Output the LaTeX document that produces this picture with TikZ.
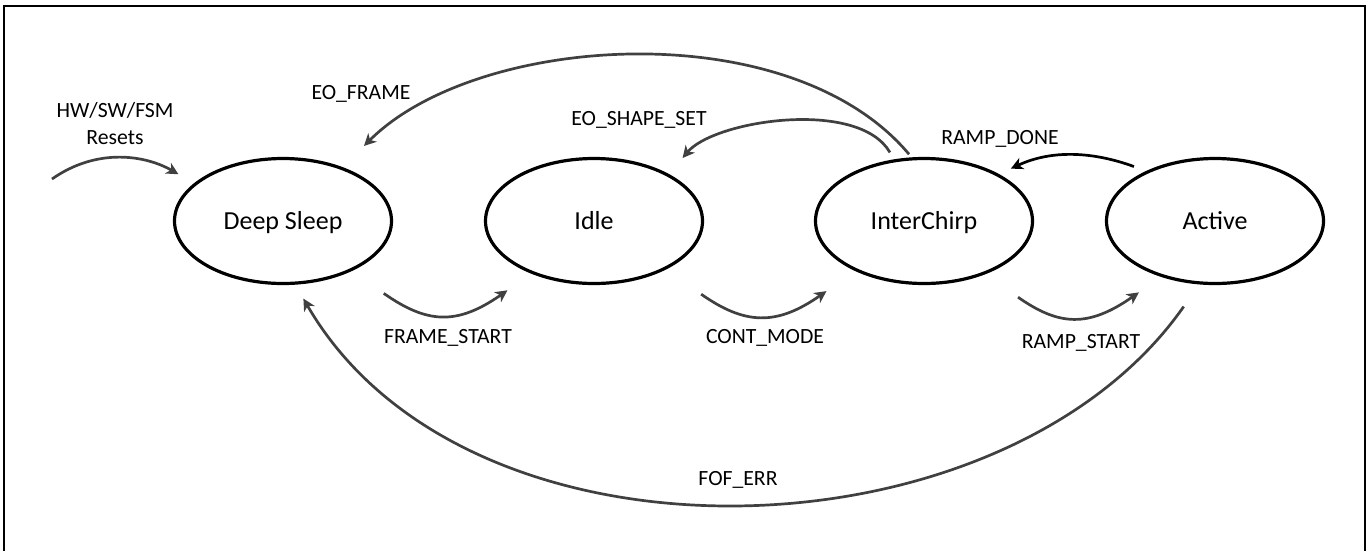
\documentclass[tikz,border=0pt]{standalone}
\usepackage{fontspec}
\setmainfont{Carlito}
\usetikzlibrary{shapes.geometric,arrows.meta}
\definecolor{arrowgray}{HTML}{404040}

\begin{document}
\begin{tikzpicture}[x=1pt,y=1pt,
    state/.style={ellipse,draw,line width=3.2pt,minimum width=217pt,minimum height=125pt,
      font=\fontsize{26}{30}\selectfont,text height=17pt,text depth=0pt},
    lbl/.style={font=\fontsize{21.7}{27}\selectfont,align=center},
    trans/.style={draw=arrowgray,line width=2.7pt,-{Stealth[length=12pt,width=12pt,inset=3.5pt]}}]
    \useasboundingbox (0,0) rectangle (1368,-550);
    \draw[line width=2.5pt] (4,-552) |- (1365,-6) -- (1365,-552);

    \node[state] (ds) at (283,-221) {Deep Sleep};
    \node[state] (idle) at (594,-221) {Idle};
    \node[state] (ic) at (924,-221) {InterChirp};
    \node[state] (act) at (1215,-221) {Active};
    \coordinate (rst) at (52,-179);

    \draw[trans,shorten >=18pt] (rst) to[out=35,in=150] (ds.157);
    \draw[trans,shorten <=4pt,shorten >=30pt] (ic.101) to[out=130,in=45,looseness=0.85] (ds.42);
    \draw[trans,shorten <=8pt,shorten >=21pt] (ic.116) to[out=120,in=50,looseness=0.8] (idle.32);
    \draw[trans,draw=black,shorten <=13pt,shorten >=13pt] (act.144) to[out=160,in=25] (ic.32);
    \draw[trans,shorten <=39pt,shorten >=29pt] (ds.-36) to[out=-35,in=-145,looseness=1.3] (idle.220);
    \draw[trans,shorten <=43pt,shorten >=35pt] (idle.-34) to[out=-35,in=-145,looseness=1.3] (ic.216);
    \draw[trans,shorten <=40pt,shorten >=27pt] (ic.-41) to[out=-35,in=-145,looseness=1.3] (act.226);
    \draw[trans,shorten <=27pt,shorten >=16pt] (act.256) to[out=235,in=-60,looseness=0.97] (ds.-79);

    \node[lbl] (lrst) at (115,-124) {HW/SW/FSM\\Resets};
    \node[lbl] (lframe) at (361,-94) {EO\_FRAME};
    \node[lbl] (lshape) at (639,-120) {EO\_SHAPE\_SET};
    \node[lbl] (ldone) at (1000,-139) {RAMP\_DONE};
    \node[lbl] (lstart) at (448,-338) {FRAME\_START};
    \node[lbl] (lcont) at (765,-338) {CONT\_MODE};
    \node[lbl] (lramp) at (1081,-343) {RAMP\_START};
    \node[lbl] (lerr) at (738,-480) {FOF\_ERR};
\end{tikzpicture}
\end{document}
